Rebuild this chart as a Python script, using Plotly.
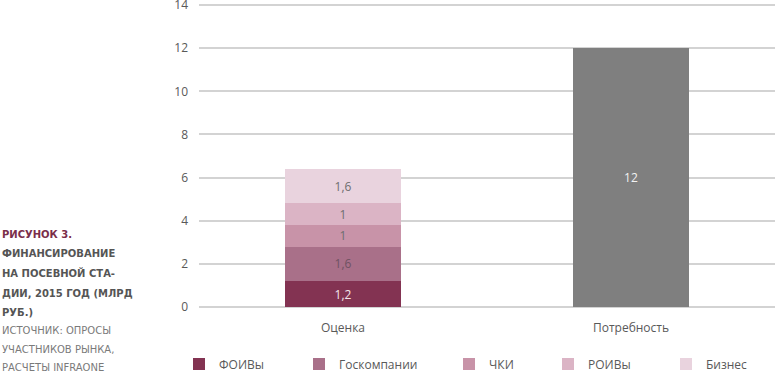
import plotly.graph_objects as go

categories = ["Оценка", "Потребность"]
series_names = ["ФОИВы", "Госкомпании", "ЧКИ", "РОИВы", "Бизнес"]
series_values = [1.2, 1.6, 1, 1, 1.6]          # stacked in "Оценка"
need_value = 12                                  # "Потребность"
y_ticks = [0, 2, 4, 6, 8, 10, 12, 14]

series_colors = ["#833352", "#a97089", "#c893a8", "#dbb4c5", "#e9d3de"]
text_colors = ["#f4e6ec", "#6f5262", "#6e6e6e", "#6e6e6e", "#6e6e6e"]
legend_text_px = [219, 339, 489, 588, 706]

caption_lines = [
    ("РИСУНОК 3.", "#7a2e4a", True),
    ("ФИНАНСИРОВАНИЕ", "#555555", True),
    ("НА ПОСЕВНОЙ СТА-", "#555555", True),
    ("ДИИ, 2015 ГОД (МЛРД", "#555555", True),
    ("РУБ.)", "#555555", True),
    ("ИСТОЧНИК: ОПРОСЫ", "#7a7a7a", False),
    ("УЧАСТНИКОВ РЫНКА,", "#7a7a7a", False),
    ("РАСЧЕТЫ INFRAONE", "#7a7a7a", False),
]
caption_px_y = [234, 254, 273, 293, 312, 330, 349, 367]


def fmt(v):
    return f"{v:g}".replace(".", ",")


FONT = "Open Sans"
W, H = 775, 373
ML, MR, MT, MB = 199, 0, 2, 66
plot_h = H - MT - MB
plot_w = W - ML - MR

fig = go.Figure()
legend_layout = {}
for i, (name, val, col, tcol, lx) in enumerate(
        zip(series_names, series_values, series_colors, text_colors, legend_text_px)):
    lg = "legend" if i == 0 else f"legend{i + 1}"
    fig.add_trace(go.Bar(
        x=[categories[0]], y=[val], name=name, legend=lg,
        marker=dict(color=col, line=dict(width=0)),
        text=[fmt(val)], textposition="inside", insidetextanchor="middle",
        textangle=0, constraintext="none",
        textfont=dict(color=tcol, size=12, family=FONT),
        hoverinfo="name+y",
    ))
    legend_layout[lg] = dict(
        orientation="h", xref="container", yref="container",
        x=(lx - 40) / W, y=(H - 364) / H,
        xanchor="left", yanchor="middle", itemwidth=30,
        font=dict(family=FONT, size=12, color="#595959"),
        bgcolor="rgba(0,0,0,0)",
    )
fig.add_trace(go.Bar(
    x=[categories[1]], y=[need_value], name=categories[1], showlegend=False,
    marker=dict(color="#7f7f7f", line=dict(width=0)),
    text=[fmt(need_value)], textposition="inside", insidetextanchor="middle",
    textangle=0,
    textfont=dict(color="#f2f2f2", size=12, family=FONT),
))

for (txt, col, bold), py in zip(caption_lines, caption_px_y):
    fig.add_annotation(
        text=f"<b>{txt}</b>" if bold else txt,
        xref="paper", yref="paper",
        x=(0 - ML) / plot_w, y=(H - MB - py) / plot_h,
        xanchor="left", yanchor="middle", showarrow=False,
        font=dict(family="DejaVu Sans", size=10, color=col),
    )

fig.update_layout(
    width=W, height=H,
    margin=dict(l=ML, r=MR, t=MT, b=MB, autoexpand=False),
    barmode="stack", bargap=0.6,
    plot_bgcolor="white", paper_bgcolor="white",
    separators=", ",
    font=dict(family=FONT, size=12, color="#595959"),
    showlegend=True,
    xaxis=dict(showgrid=False, showline=False, ticks="", ticklabelstandoff=12,
               tickfont=dict(size=12, color="#595959")),
    yaxis=dict(range=[0, 14.14], tickvals=y_ticks, showgrid=True,
               gridcolor="#d3d3d3", gridwidth=1.5, zeroline=True,
               zerolinecolor="#d3d3d3", zerolinewidth=1.5, showline=False,
               ticks="", ticklabelstandoff=10, ticklabeloverflow="allow",
               tickfont=dict(size=12, color="#595959")),
    **legend_layout,
)

fig.write_html("out.html", config={"displayModeBar": False},
               post_script="document.body.style.margin='0';document.body.style.overflow='hidden';")
